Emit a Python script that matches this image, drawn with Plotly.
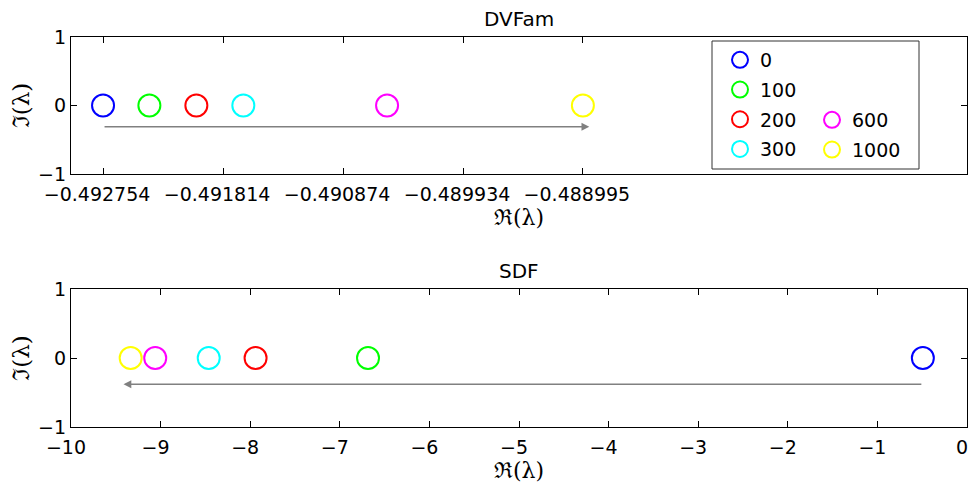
import plotly.graph_objects as go
from plotly.subplots import make_subplots

# ---- data ----
sweep_labels = ["0", "100", "200", "300", "600", "1000"]
colors = ["#0000ff", "#00ff00", "#ff0000", "#00ffff", "#ff00ff", "#ffff00"]
dvfam_re = [-0.492754, -0.492391, -0.492023, -0.491655, -0.490529, -0.488995]
dvfam_im = [0, 0, 0, 0, 0, 0]
sdf_re = [-0.4928, -6.685, -7.94, -8.463, -9.06, -9.334]
sdf_im = [0, 0, 0, 0, 0, 0]
top_tick_labels = ["−0.492754", "−0.491814", "−0.490874", "−0.489934", "−0.488995"]
bot_tick_vals = [-10, -9, -8, -7, -6, -5, -4, -3, -2, -1, 0]
y_tick_vals = [-1, 0, 1]

FONT = "DejaVu Sans, Liberation Sans, Arial, sans-serif"
SERIF = "DejaVu Serif"
FS = 19
OFF = 8                      # browser body margin
W, H = 977 - OFF, 486 - OFF
ML, MT = 71 - OFF, 37 - OFF
MR = W - (967 - OFF)
MB = H - (427 - OFF)
PW, PH = W - ML - MR, H - MT - MB

fig = make_subplots(rows=2, cols=1, vertical_spacing=0.0)
fig.update_layout(
    xaxis=dict(domain=[0, 1], anchor="y"),
    yaxis=dict(domain=[0.6487, 1.0], anchor="x"),
    xaxis2=dict(domain=[0, 1], anchor="y2"),
    yaxis2=dict(domain=[0.0, 0.3538], anchor="x2"),
)

for i, lab in enumerate(sweep_labels):
    leg = "legend" if i < 4 else "legend2"
    fig.add_trace(go.Scatter(
        x=[dvfam_re[i]], y=[dvfam_im[i]], mode="markers", name=lab,
        legend=leg, legendgroup=lab,
        marker=dict(symbol="circle-open", size=22, color=colors[i],
                    line=dict(color=colors[i], width=2)),
        showlegend=True), row=1, col=1)
    fig.add_trace(go.Scatter(
        x=[sdf_re[i]], y=[sdf_im[i]], mode="markers", name=lab,
        legendgroup=lab,
        marker=dict(symbol="circle-open", size=22, color=colors[i],
                    line=dict(color=colors[i], width=2)),
        showlegend=False), row=2, col=1)

# arrows (from first to last point of each series)
ARROW_GREY = "#808080"
fig.add_annotation(x=dvfam_re[-1] + 0.00005, y=-0.31, ax=dvfam_re[0], ay=-0.31,
                   xref="x", yref="y", axref="x", ayref="y", text="",
                   showarrow=True, arrowhead=2, arrowsize=1.2, arrowwidth=1.3,
                   arrowcolor=ARROW_GREY)
fig.add_annotation(x=sdf_re[-1] - 0.08, y=-0.38, ax=sdf_re[0], ay=-0.38,
                   xref="x2", yref="y2", axref="x2", ayref="y2", text="",
                   showarrow=True, arrowhead=2, arrowsize=1.2, arrowwidth=1.3,
                   arrowcolor=ARROW_GREY)

axis_common = dict(showgrid=False, zeroline=False, showline=True, linecolor="black",
                   linewidth=1.3, mirror="ticks", ticks="inside", ticklen=6,
                   tickcolor="black", tickwidth=1, automargin=False,
                   tickfont=dict(family=FONT, size=FS, color="black"))

top_tick_vals = [float(t.replace("−", "-")) for t in top_tick_labels]
fig.update_xaxes(row=1, col=1, range=[-0.493005, -0.485986], tickvals=top_tick_vals,
                 ticktext=top_tick_labels, ticklabelshift=-6, ticklabelstandoff=3,
                 title=dict(text="ℜ(λ)", font=dict(family=SERIF, size=22), standoff=0),
                 **axis_common)
fig.update_xaxes(row=2, col=1, range=[-10, 0], tickvals=bot_tick_vals,
                 ticktext=[("−" + str(-v)) if v < 0 else str(v) for v in bot_tick_vals],
                 ticklabelshift=-5, ticklabelstandoff=3,
                 title=dict(text="ℜ(λ)", font=dict(family=SERIF, size=22), standoff=0),
                 **axis_common)
for r in (1, 2):
    fig.update_yaxes(row=r, col=1, range=[-1, 1], tickvals=y_tick_vals,
                     ticktext=["−1", "0", "1"],
                     title=dict(text="ℑ(λ)", font=dict(family=SERIF, size=23), standoff=8),
                     **axis_common)

# subplot titles
fig.add_annotation(text="DVFam", x=0.5, y=1.0, xref="paper", yref="paper",
                   yanchor="bottom", yshift=4, showarrow=False,
                   font=dict(family=FONT, size=20, color="black"))
fig.add_annotation(text="SDF", x=0.5, y=0.3538, xref="paper", yref="paper",
                   yanchor="bottom", yshift=4, showarrow=False,
                   font=dict(family=FONT, size=20, color="black"))

# helpers: page pixel -> paper fraction
def px_x(px):
    return (px - OFF - ML) / PW

def px_y(py):
    return (H - MB - (py - OFF)) / PH

fig.add_shape(type="rect", xref="paper", yref="paper",
              x0=px_x(712), x1=px_x(919), y0=px_y(169), y1=px_y(41),
              line=dict(color="#333333", width=1), fillcolor="white", layer="below")

leg_common = dict(bgcolor="rgba(0,0,0,0)", borderwidth=0,
                  font=dict(family=FONT, size=FS, color="black"),
                  itemsizing="trace", tracegroupgap=2,
                  xanchor="left", yanchor="top")
fig.update_layout(
    legend=dict(x=px_x(720), y=px_y(41), **leg_common),
    legend2=dict(x=px_x(812), y=px_y(101), **leg_common),
)

fig.update_layout(
    width=W, height=H, margin=dict(l=ML, r=MR, t=MT, b=MB),
    paper_bgcolor="white", plot_bgcolor="white",
    font=dict(family=FONT, size=FS, color="black"),
)

fig.write_html("out.html")
